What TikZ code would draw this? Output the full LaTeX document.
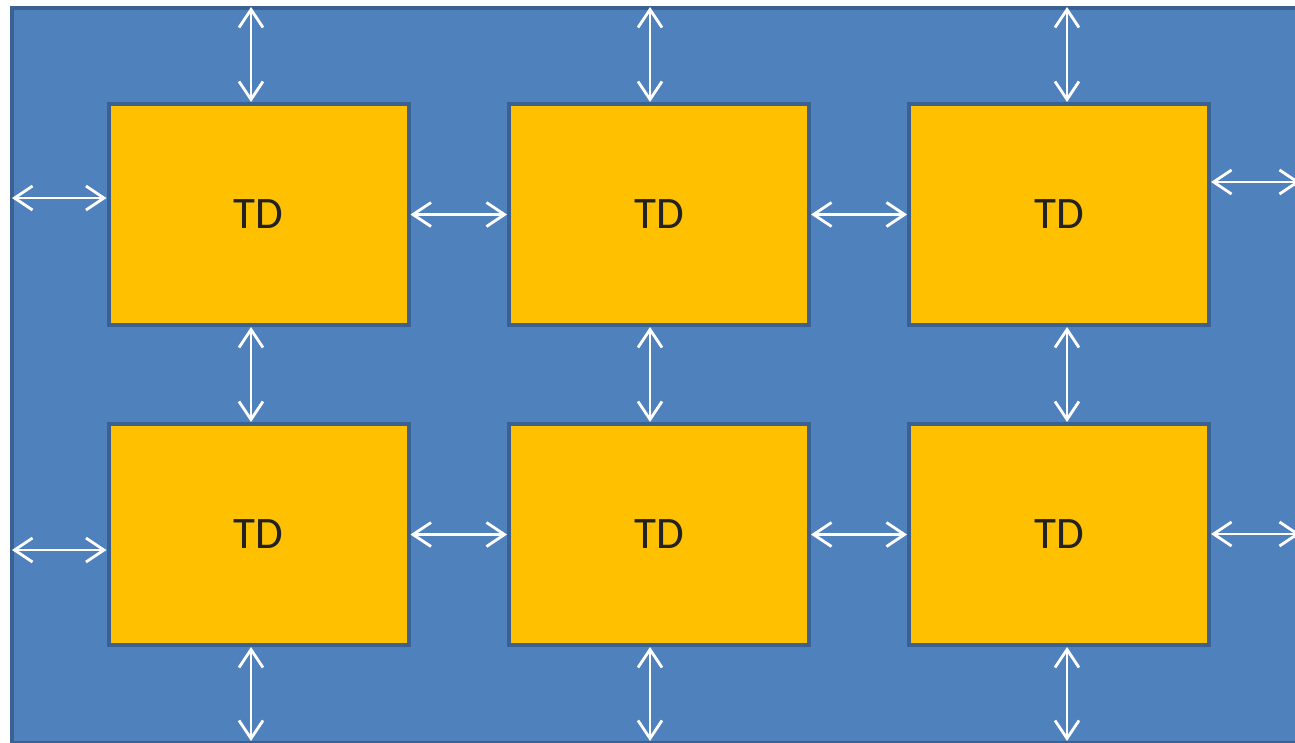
\documentclass[tikz,border=0pt]{standalone}
\usepackage{fontspec}
\setmainfont{Carlito}
\usetikzlibrary{arrows.meta}
\definecolor{bgblue}{HTML}{4F81BD}
\definecolor{edgeblue}{HTML}{3A6191}
\definecolor{tdyellow}{HTML}{FFC000}
\definecolor{tdtext}{HTML}{222222}
\tikzset{
  bgbox/.style={draw=edgeblue, fill=bgblue, line width=4pt, anchor=north west, inner sep=0pt},
  tdbox/.style={draw=edgeblue, fill=tdyellow, line width=4pt, minimum width=300pt, minimum height=221pt,
    inner sep=0pt, text=tdtext, font=\fontsize{45}{50}\selectfont},
  dar/.style={draw=white, line width=2.8pt, {Straight Barb[length=18pt,width=24pt]}-{Straight Barb[length=18pt,width=24pt]}}
}
\begin{document}
\begin{tikzpicture}[x=1pt,y=-1pt]
\useasboundingbox (0,0) rectangle (1295,742);
\node[bgbox, minimum width=1300pt, minimum height=735pt] (bg) at (10,6) {};
% boxes
\node[tdbox] (b11) at (258.5,214.5) {TD};
\node[tdbox] (b12) at (659,214.5) {TD};
\node[tdbox] (b13) at (1059,214.5) {TD};
\node[tdbox] (b21) at (258.5,534.5) {TD};
\node[tdbox] (b22) at (659,534.5) {TD};
\node[tdbox] (b23) at (1059,534.5) {TD};
% coordinates for free ends
\coordinate (t1) at (251,7);
\coordinate (t2) at (650,7);
\coordinate (t3) at (1067,7);
\coordinate (u1) at (251,741);
\coordinate (u2) at (650,741);
\coordinate (u3) at (1067,741);
\coordinate (l1) at (12,198);
\coordinate (l2) at (12,550);
\coordinate (r1) at (1300,182);
\coordinate (r2) at (1300,534);
% vertical arrows
\draw[dar] (t1) -- (t1 |- b11.north);
\draw[dar] (t2) -- (t2 |- b12.north);
\draw[dar] (t3) -- (t3 |- b13.north);
\draw[dar] (t1 |- b11.south) -- (t1 |- b21.north);
\draw[dar] (t2 |- b12.south) -- (t2 |- b22.north);
\draw[dar] (t3 |- b13.south) -- (t3 |- b23.north);
\draw[dar] (u1 |- b21.south) -- (u1);
\draw[dar] (u2 |- b22.south) -- (u2);
\draw[dar] (u3 |- b23.south) -- (u3);
% horizontal arrows
\draw[dar] (l1) -- (l1 -| b11.west);
\draw[dar] (b11.east) -- (b12.west);
\draw[dar] (b12.east) -- (b13.west);
\draw[dar] (r1 -| b13.east) -- (r1);
\draw[dar] (l2) -- (l2 -| b21.west);
\draw[dar] (b21.east) -- (b22.west);
\draw[dar] (b22.east) -- (b23.west);
\draw[dar] (r2 -| b23.east) -- (r2);
\end{tikzpicture}
\end{document}
